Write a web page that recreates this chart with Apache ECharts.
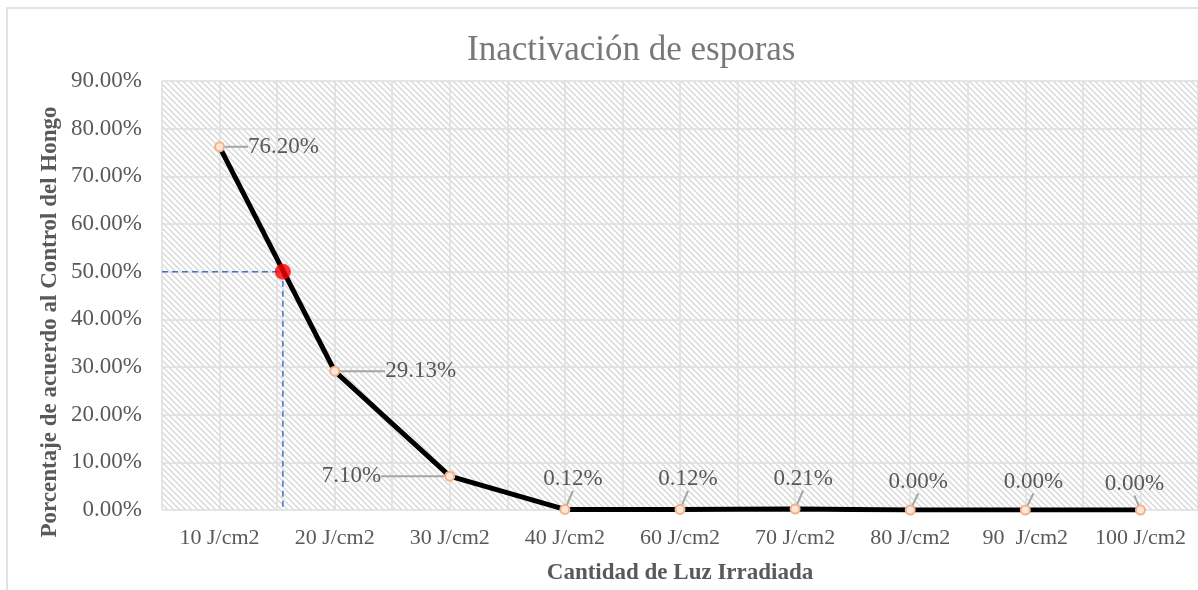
<!DOCTYPE html>
<html><head><meta charset="utf-8">
<script src="https://cdn.jsdelivr.net/npm/echarts@6/dist/echarts.min.js"></script>
<style>html,body{margin:0;padding:0;background:#fff}#c{width:1198px;height:590px}</style>
</head><body><div id="c"></div>
<script>
var categories = ['10 J/cm2','20 J/cm2','30 J/cm2','40 J/cm2','60 J/cm2','70 J/cm2','80 J/cm2','90  J/cm2','100 J/cm2'];
var values = [76.20, 29.13, 7.10, 0.12, 0.12, 0.21, 0.00, 0.00, 0.00];
var yTicks = {min: 0, max: 90, interval: 10};
var halfPoint = [0.55, 50];   // red point (50% crossing) on fractional category index
var titleText = 'Inactivación de esporas';
var xName = 'Cantidad de Luz Irradiada';
var yName = 'Porcentaje de acuerdo al Control del Hongo';

var FONT = '"Liberation Serif", "DejaVu Serif", serif';
var pat = document.createElement('canvas');
pat.width = 6; pat.height = 6;
var g = pat.getContext('2d');
g.fillStyle = '#ffffff'; g.fillRect(0,0,6,6);
g.strokeStyle = '#d9d9d9'; g.lineWidth = 1.5;
g.beginPath(); g.moveTo(-1,-1); g.lineTo(7,7); g.moveTo(-1,5); g.lineTo(1,7); g.moveTo(5,-1); g.lineTo(7,1); g.stroke();

var chart = echarts.init(document.getElementById('c'));
var layouts = [
  {dx: 18, dy: 0}, {dx: 40, dy: 0}, {dx: -58, dy: 0},
  {dx: 8, dy: -8}, {dx: 8, dy: -8}, {dx: 8, dy: -8}, {dx: 8, dy: -6}, {dx: 8, dy: -6}, {dx: -6, dy: -4}
];
var positions = ['right','right','left','top','top','top','top','top','top'];
chart.setOption({
  animation: false,
  title: {text: titleText, left: 462, top: 28, textStyle: {fontFamily: FONT, fontSize: 35, fontWeight: 'normal', color: '#787878'}},
  grid: {left: 162, right: -8, top: 81, bottom: 78, show: true, borderWidth: 0, backgroundColor: {image: pat, repeat: 'repeat'}},
  graphic: [
    {type: 'rect', shape: {x: 7, y: 8, width: 1300, height: 700}, style: {fill: 'none', stroke: '#d9d9d9', lineWidth: 1.5}, z: -1},
    {type: 'text', x: 50, y: 322, rotation: Math.PI/2, style: {text: yName, fontFamily: FONT, fontSize: 23, fontWeight: 'bold', fill: '#595959', align: 'center', verticalAlign: 'middle'}}
  ],
  xAxis: [
    {type: 'category', data: categories, boundaryGap: true, axisLine: {show: false}, axisTick: {show: false},
     axisLabel: {fontFamily: FONT, fontSize: 22, color: '#595959', margin: 17, interval: 0, hideOverlap: false},
     name: xName, nameLocation: 'middle', nameGap: 52, nameTextStyle: {fontFamily: FONT, fontSize: 23, fontWeight: 'bold', color: '#595959'}},
    {type: 'value', min: -0.5, max: 8.5, interval: 0.5, position: 'bottom', axisLabel: {show: false}, axisLine: {show: false}, axisTick: {show: false},
     splitLine: {show: true, lineStyle: {color: '#dedede', width: 1.5}}}
  ],
  yAxis: {type: 'value', min: yTicks.min, max: yTicks.max, interval: yTicks.interval,
    axisLabel: {fontFamily: FONT, fontSize: 23, color: '#595959', margin: 20, formatter: function(v){return v.toFixed(2)+'%';}},
    axisLine: {show: false}, axisTick: {show: false},
    splitLine: {show: true, lineStyle: {color: '#dedede', width: 1.5}}},
  series: [
    {type: 'line', xAxisIndex: 1, data: [[-0.5, halfPoint[1]], halfPoint, [halfPoint[0], 0]], symbol: 'none', silent: true,
     lineStyle: {color: '#4472c4', type: [6, 4], width: 1.5}, z: 3},
    {type: 'line', xAxisIndex: 0, data: values.map(function(v, i){ return {value: v, label: {position: positions[i]}}; }),
     symbol: 'circle', symbolSize: 9,
     lineStyle: {color: '#000', width: 5}, itemStyle: {color: '#fde7dc', borderColor: '#f4b183', borderWidth: 2},
     label: {show: true, formatter: function(p){return p.value.toFixed(2)+'%';}, fontFamily: FONT, fontSize: 23, color: '#595959'},
     labelLine: {show: true, lineStyle: {color: '#a6a6a6', width: 2}},
     labelLayout: function(p){ return layouts[p.dataIndex]; },
     z: 4},
    {type: 'scatter', xAxisIndex: 1, data: [halfPoint], symbol: 'circle', symbolSize: 16, itemStyle: {color: '#ff0000'}, z: 6}
  ]
});
</script></body></html>
